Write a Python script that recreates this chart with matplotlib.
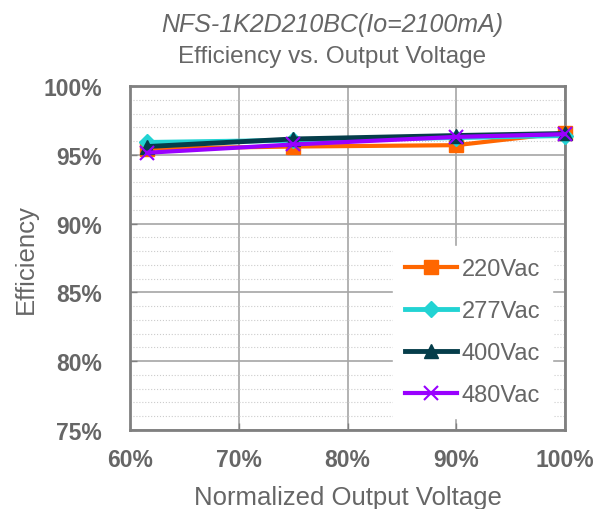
import matplotlib.pyplot as plt
from matplotlib.ticker import MultipleLocator, FuncFormatter

plt.rcParams['font.family'] = ['Liberation Sans', 'DejaVu Sans']

voltage = [61.6, 75, 90, 100]
eff_220 = [95.45, 95.6, 95.7, 96.6]
eff_277 = [95.9, 96.05, 96.25, 96.4]
eff_400 = [95.6, 96.15, 96.4, 96.55]
eff_480 = [95.15, 95.75, 96.3, 96.5]

series = [
    ("220Vac", eff_220, "#FF6600", "s", 10, 3),
    ("277Vac", eff_277, "#22D3D3", "D", 8, 3.5),
    ("400Vac", eff_400, "#053D4A", "^", 10, 3.5),
    ("480Vac", eff_480, "#9900FF", "x", 10, 3),
]

gray = "#666666"


def main():
    fig = plt.figure(figsize=(6.01, 5.10), dpi=100)
    ax = fig.add_axes([130 / 601, 1 - 431 / 510, 435 / 601, 344 / 510])

    for name, vals, color, marker, ms, lw in series:
        ax.plot(voltage, vals, color=color, marker=marker, markersize=ms, linewidth=lw,
                markeredgewidth=1.5 if marker == "x" else 1, markeredgecolor=color,
                label=name, clip_on=False, zorder=3)

    ax.set_xlim(60, 100)
    ax.set_ylim(75, 100)
    ax.xaxis.set_major_locator(MultipleLocator(10))
    ax.yaxis.set_major_locator(MultipleLocator(5))
    ax.yaxis.set_minor_locator(MultipleLocator(1))
    pct = FuncFormatter(lambda v, p: f"{v:.0f}%")
    ax.xaxis.set_major_formatter(pct)
    ax.yaxis.set_major_formatter(pct)

    ax.grid(which="major", color="#A6A6A6", linewidth=1.2)
    ax.grid(which="minor", axis="y", color="#CCCCCC", linewidth=0.8, linestyle=":")
    ax.set_axisbelow(True)

    for sp in ax.spines.values():
        sp.set_color("#808080")
        sp.set_linewidth(2)

    ax.tick_params(which="major", direction="in", length=5, color="#808080", width=1)
    ax.tick_params(which="minor", length=0)
    ax.tick_params(axis="y", pad=20)
    ax.tick_params(axis="x", pad=13)
    for lab in ax.get_xticklabels() + ax.get_yticklabels():
        lab.set_fontsize(16.5)
        lab.set_fontweight("bold")
        lab.set_color(gray)

    ax.set_xlabel("Normalized Output Voltage", fontsize=18.5, color=gray, labelpad=10)
    ax.set_ylabel("Efficiency", fontsize=18.5, color=gray, labelpad=4)

    fig.text(332 / 601, 1 - 25 / 510, "NFS-1K2D210BC(Io=2100mA)", fontsize=18, style="italic",
             color=gray, ha="center", va="center")
    fig.text(332 / 601, 1 - 57 / 510, "Efficiency vs. Output Voltage", fontsize=17.5,
             color=gray, ha="center", va="center")

    leg = ax.legend(loc="lower right", bbox_to_anchor=(0.997, 0.0), fontsize=17, frameon=True,
                    framealpha=1, edgecolor="white", fancybox=False, labelspacing=0.85,
                    handlelength=2.2, handletextpad=0.2, borderpad=0.5)
    for t in leg.get_texts():
        t.set_color(gray)

    fig.savefig("out.png", dpi=100)


if __name__ == "__main__":
    main()
